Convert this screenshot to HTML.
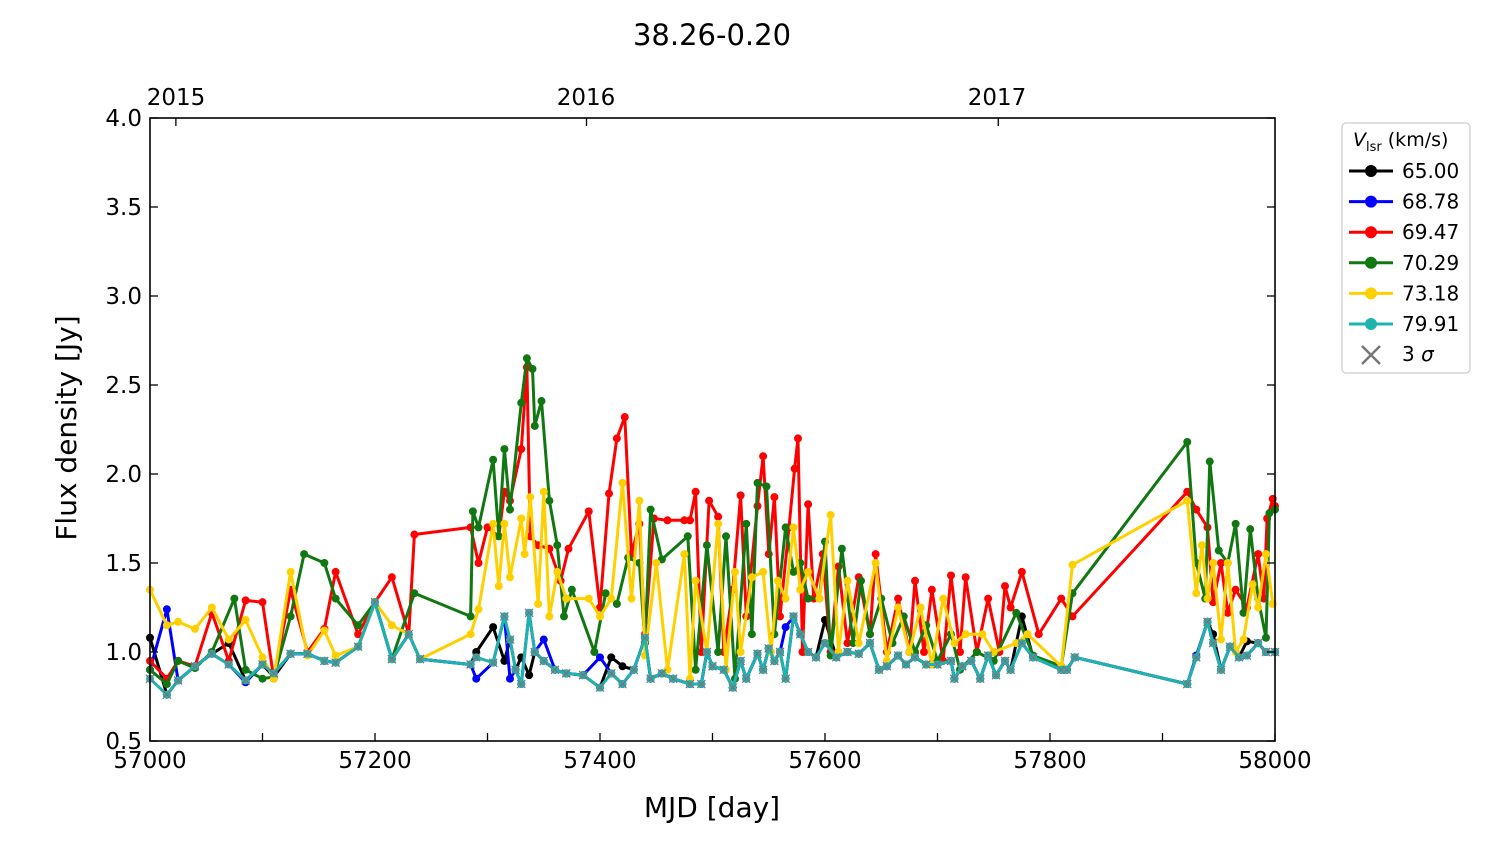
<!DOCTYPE html>
<html><head><meta charset="utf-8"><style>
body{margin:0;background:#fff;}
svg text{font-family:"DejaVu Sans","Liberation Sans",sans-serif;fill:#000;}
</style></head><body>
<svg id="s" width="1500" height="844" xmlns="http://www.w3.org/2000/svg">
<rect width="1500" height="844" fill="#fff"/>
<text x="712" y="45" font-size="29" text-anchor="middle">38.26-0.20</text>
<g id="plot"></g>
<rect x="150" y="118" width="1125" height="623" fill="none" stroke="#000" stroke-width="1.6"/>
<g id="ax" font-size="23"></g>
<text x="712" y="817" font-size="28" text-anchor="middle">MJD [day]</text>
<text transform="translate(76,428) rotate(-90)" font-size="28" text-anchor="middle">Flux density [Jy]</text>
<text x="176" y="105" font-size="23" text-anchor="middle">2015</text>
<text x="586" y="105" font-size="23" text-anchor="middle">2016</text>
<text x="997" y="105" font-size="23" text-anchor="middle">2017</text>
<g id="leg">
<rect x="1342" y="123" width="128" height="250" rx="4" fill="#fff" stroke="#ccc" stroke-width="1.2"/>
<text x="1353" y="146" font-size="19"><tspan font-style="italic">V</tspan><tspan font-size="13" dy="5">lsr</tspan><tspan dy="-5"> (km/s)</tspan></text>
</g>
</svg>
<script>
const X=m=>150+(m-57000)*1.125, Y=f=>741-(f-0.5)*178;
const ns="http://www.w3.org/2000/svg";
function el(p,t,a){const e=document.createElementNS(ns,t);for(const k in a)e.setAttribute(k,a[k]);p.appendChild(e);return e;}
const ax=document.getElementById('ax');
for(let i=0;i<=5;i++){const m=57000+i*200;el(ax,'text',{x:X(m),y:768,'text-anchor':'middle'}).textContent=m;}
for(let m=57000;m<=58000;m+=100){el(ax,'line',{x1:X(m),x2:X(m),y1:741,y2:733,stroke:'#000','stroke-width':1.3});}
for(let i=0;i<=7;i++){const f=0.5+i*0.5,y=Y(f);el(ax,'text',{x:142,y:y+8,'text-anchor':'end'}).textContent=f.toFixed(1);
el(ax,'line',{x1:150,x2:158,y1:y,y2:y,stroke:'#000','stroke-width':1.3});el(ax,'line',{x1:1267,x2:1275,y1:y,y2:y,stroke:'#000','stroke-width':1.3});}
[57023,57388,57754].forEach(m=>el(ax,'line',{x1:X(m),x2:X(m),y1:118,y2:126,stroke:'#000','stroke-width':1.3}));
function P(s){const a=s.trim().split(/[\s,]+/).map(Number),r=[];for(let i=0;i<a.length;i+=2)r.push([a[i],a[i+1]]);return r;}
const base=P(`57000 0.85,57015 0.76,57025 0.84,57040 0.92,57055 0.99,57070 0.93,57085 0.84,57100 0.93,57110 0.88,57125 0.99,57140 0.99,57155 0.95,57165 0.94,57185 1.03,57200 1.28,57215 0.96,57230 1.1,57240 0.96,57285 0.93,57290 0.97,57305 0.94,57315 1.2,57320 1.07,57325 0.9,57330 0.82,57337 1.22,57342 1.0,57350 0.95,57360 0.9,57370 0.88,57385 0.87,57400 0.8,57410 0.88,57420 0.82,57430 0.9,57440 1.08,57445 0.85,57455 0.88,57465 0.85,57480 0.82,57490 0.82,57495 1.0,57500 0.92,57510 0.9,57518 0.8,57525 0.95,57530 0.85,57540 0.99,57545 0.9,57550 1.02,57555 0.95,57560 1.0,57565 0.85,57572 1.2,57578 1.1,57585 1.0,57592 0.97,57600 1.05,57610 0.97,57620 1.0,57630 0.99,57640 1.05,57648 0.9,57655 0.92,57665 0.98,57672 0.93,57680 0.97,57690 0.93,57700 0.93,57712 0.95,57715 0.85,57722 0.92,57730 0.95,57738 0.85,57745 0.98,57752 0.87,57760 0.95,57765 0.9,57775 1.05,57785 0.97,57810 0.9,57815 0.9,57822 0.97,57922 0.82,57930 0.97,57940 1.17,57945 1.05,57952 0.9,57960 1.03,57968 0.97,57975 0.98,57985 1.05,57992 1.0,58000 1.0`);
function over(o){const m={};P(o).forEach(p=>m[p[0]]=p[1]);return base.map(p=>[p[0],m[p[0]]!==undefined?m[p[0]]:p[1]]);}
const black=over(`57000 1.08,57070 1.05,57110 0.86,57290 1.0,57305 1.14,57315 0.95,57330 0.97,57337 0.87,57410 0.97,57420 0.92,57600 1.18,57775 1.2,57945 1.1,57975 1.06`);
const blue=over(`57000 0.9,57015 1.24,57085 0.83,57290 0.85,57320 0.85,57350 1.07,57400 0.97,57565 1.14,57922 0.82,57930 0.98`);
const red=P(`57000 0.95,57015 0.85,57025 0.95,57040 0.92,57055 1.22,57070 0.95,57085 1.29,57100 1.28,57110 0.85,57125 1.35,57140 1.0,57155 1.13,57165 1.45,57185 1.1,57200 1.28,57215 1.42,57230 1.1,57235 1.66,57285 1.7,57292 1.5,57300 1.7,57310 1.65,57315 1.9,57320 1.85,57330 2.14,57335 2.6,57338 1.65,57345 1.6,57355 1.58,57365 1.4,57372 1.58,57390 1.79,57400 1.25,57408 1.89,57415 2.2,57422 2.32,57428 1.55,57435 1.72,57440 1.1,57448 1.75,57460 1.74,57475 1.74,57480 1.74,57485 1.9,57490 1.0,57497 1.85,57505 1.76,57510 1.0,57518 1.35,57525 1.88,57530 1.2,57540 1.82,57545 2.1,57550 1.55,57555 1.87,57560 1.2,57568 1.7,57573 2.03,57576 2.2,57580 1.0,57585 1.83,57590 1.3,57598 1.55,57605 1.0,57612 1.48,57620 1.05,57630 1.42,57640 1.1,57645 1.55,57655 1.0,57665 1.3,57675 1.0,57680 1.4,57688 1.0,57695 1.35,57705 0.95,57712 1.43,57720 1.0,57725 1.42,57735 1.0,57745 1.3,57755 1.0,57760 1.37,57765 1.25,57775 1.45,57790 1.1,57810 1.3,57820 1.2,57922 1.9,57930 1.8,57940 1.7,57945 1.28,57952 1.5,57958 1.22,57965 1.35,57975 1.25,57985 1.55,57990 1.3,57993 1.75,57998 1.86,58000 1.82`);
const green=P(`57000 0.9,57015 0.82,57025 0.95,57040 0.91,57055 1.0,57075 1.3,57085 0.9,57100 0.85,57110 0.86,57125 1.2,57137 1.55,57155 1.5,57165 1.3,57185 1.15,57200 1.28,57215 0.96,57235 1.33,57285 1.2,57287 1.79,57292 1.7,57305 2.08,57310 1.65,57315 2.14,57320 1.8,57330 2.4,57335 2.65,57340 2.59,57342 2.27,57348 2.41,57355 1.85,57362 1.6,57368 1.2,57375 1.35,57395 1.0,57405 1.33,57415 1.27,57425 1.53,57435 1.5,57440 1.05,57445 1.8,57455 1.52,57478 1.65,57485 0.9,57495 1.6,57505 1.0,57512 1.65,57520 0.85,57530 1.72,57535 1.1,57540 1.95,57548 1.93,57555 1.1,57565 1.7,57572 1.45,57578 1.5,57585 1.3,57595 1.3,57600 1.62,57605 0.98,57615 1.58,57625 1.05,57632 1.4,57640 1.1,57650 1.3,57660 1.05,57670 1.2,57680 1.0,57690 1.15,57700 0.95,57712 1.1,57720 0.9,57735 1.0,57750 0.95,57770 1.22,57785 0.98,57810 0.92,57820 1.33,57922 2.18,57930 1.5,57938 1.3,57942 2.07,57950 1.57,57958 1.5,57965 1.72,57972 1.22,57978 1.69,57985 1.3,57992 1.08,57995 1.78,58000 1.8`);
const yellow=P(`57000 1.35,57015 1.15,57025 1.17,57040 1.13,57055 1.25,57070 1.07,57085 1.18,57100 0.97,57110 0.85,57125 1.45,57140 0.98,57155 1.12,57165 0.98,57185 1.03,57200 1.28,57215 1.15,57230 1.1,57240 0.96,57285 1.1,57292 1.24,57305 1.72,57310 1.37,57315 1.72,57320 1.42,57330 1.75,57333 1.55,57338 1.87,57345 1.27,57350 1.9,57355 1.2,57362 1.45,57370 1.3,57390 1.3,57400 1.2,57410 1.3,57420 1.95,57428 1.3,57435 1.85,57440 0.98,57450 1.5,57460 0.9,57475 1.55,57480 0.85,57485 1.4,57495 1.0,57505 1.72,57512 0.9,57520 1.45,57525 1.0,57535 1.42,57545 1.45,57552 1.0,57558 1.4,57565 1.3,57572 1.7,57578 1.35,57585 1.45,57595 1.3,57605 1.77,57612 1.0,57620 1.4,57630 1.05,57645 1.5,57655 0.95,57665 1.25,57675 1.0,57685 1.25,57695 0.93,57705 1.3,57715 1.05,57725 1.1,57740 1.1,57750 1.0,57770 1.05,57780 1.1,57810 0.92,57820 1.49,57922 1.85,57930 1.33,57935 1.6,57940 1.3,57945 1.5,57952 1.07,57958 1.5,57965 1.0,57972 1.07,57980 1.38,57985 1.25,57992 1.55,57998 1.27`);
const g=document.getElementById('plot');
function draw(d,c,xs){el(g,'polyline',{points:d.map(p=>X(p[0]).toFixed(1)+','+Y(p[1]).toFixed(1)).join(' '),fill:'none',stroke:c,'stroke-width':3,'stroke-linejoin':'round'});
d.forEach(p=>{el(g,'circle',{cx:X(p[0]),cy:Y(p[1]),r:4,fill:c});if(xs){const x=X(p[0]),y=Y(p[1]),s=4;el(g,'path',{d:`M${x-s},${y-s}L${x+s},${y+s}M${x-s},${y+s}L${x+s},${y-s}`,stroke:'#777','stroke-width':1.3});}});}
draw(black,'#000');draw(blue,'#0000ff');draw(red,'#ff0000');draw(green,'#117711');draw(yellow,'#ffd000');draw(base,'#1fb3b0',true);
const L=document.getElementById('leg');
[['65.00','#000'],['68.78','#0000ff'],['69.47','#ff0000'],['70.29','#117711'],['73.18','#ffd000'],['79.91','#1fb3b0']].forEach((v,i)=>{const y=171+i*30.6;
el(L,'line',{x1:1349,x2:1393,y1:y,y2:y,stroke:v[1],'stroke-width':3});el(L,'circle',{cx:1371,cy:y,r:6,fill:v[1]});
const t=el(L,'text',{x:1402,y:y+7,'font-size':20});t.textContent=v[0];});
el(L,'path',{d:'M1362,346L1380,364M1362,364L1380,346',stroke:'#777','stroke-width':2.5});
const t=el(L,'text',{x:1402,y:361,'font-size':20});t.innerHTML='3 <tspan font-style="italic">σ</tspan>';
</script>
</body></html>
